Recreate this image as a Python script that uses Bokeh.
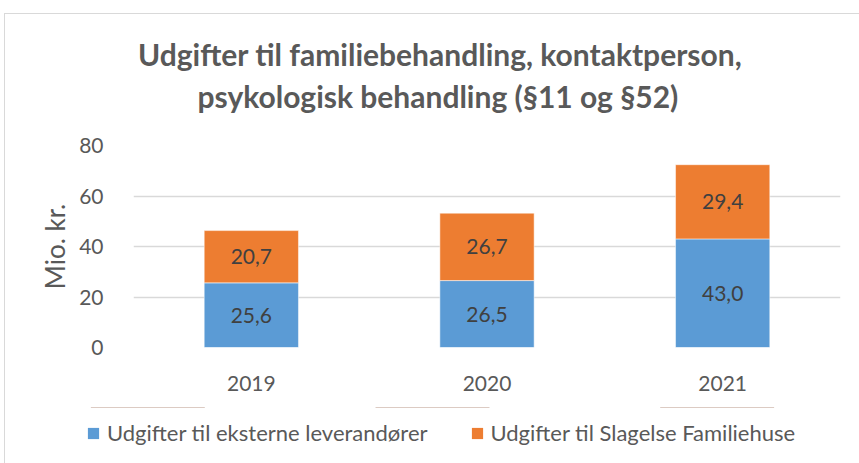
from bokeh.plotting import figure
from bokeh.layouts import column
from bokeh.models import ColumnDataSource, Legend, LegendItem, Title, FactorRange, Range1d
from bokeh.core.properties import value
from bokeh.embed import file_html
from bokeh.resources import INLINE

years = ["2019", "2020", "2021"]
eksterne = [25.6, 26.5, 43.0]
familiehuse = [20.7, 26.7, 29.4]
y_ticks = [0, 20, 40, 60, 80]
title_lines = ["Udgifter til familiebehandling, kontaktperson,",
               "psykologisk behandling (§11 og §52)"]
series_names = ["Udgifter til eksterne leverandører", "Udgifter til Slagelse Familiehuse"]
colors = ["#5B9BD5", "#ED7D31"]

FONT = "Lato"
TXT = "#595959"

src = ColumnDataSource(dict(years=years, eksterne=eksterne, familiehuse=familiehuse))

p = figure(x_range=FactorRange(factors=years, range_padding=0), y_range=Range1d(0, 80),
           frame_width=707, frame_height=202, output_backend="svg", toolbar_location=None,
           min_border_left=128, min_border_right=19, min_border_top=131, min_border_bottom=60)
p.outline_line_color = None
p.background_fill_color = "white"
p.border_fill_color = "white"

rs = p.vbar_stack(["eksterne", "familiehuse"], x="years", width=0.4, color=colors,
                  line_color="white", line_width=0.5, source=src)

# data labels
lx, ly, lt = [], [], []
for i, yr in enumerate(years):
    a, b = eksterne[i], familiehuse[i]
    lx += [yr, yr]
    ly += [a / 2, a + b / 2]
    lt += [f"{a:.1f}".replace(".", ","), f"{b:.1f}".replace(".", ",")]
lsrc = ColumnDataSource(dict(x=lx, y=ly, t=lt))
p.text(x="x", y="y", text="t", source=lsrc, text_align="center", text_baseline="middle",
       text_font=value(FONT), text_font_size="21px", text_color="#404040")

# grid & axes
p.xgrid.visible = False
p.ygrid.grid_line_color = "#d9d9d9"
p.ygrid.grid_line_width = 1.3
p.yaxis.ticker = y_ticks
for ax in (p.xaxis[0], p.yaxis[0]):
    ax.axis_line_color = None
    ax.major_tick_line_color = None
    ax.minor_tick_line_color = None
    ax.major_label_text_font = FONT
    ax.major_label_text_font_size = "21px"
    ax.major_label_text_color = TXT
p.yaxis.major_label_standoff = 24
p.xaxis.major_label_standoff = 22
p.yaxis.axis_label = "Mio. kr."
p.yaxis.axis_label_text_font = FONT
p.yaxis.axis_label_text_font_style = "normal"
p.yaxis.axis_label_text_font_size = "26px"
p.yaxis.axis_label_text_color = TXT
p.yaxis.axis_label_standoff = 5

# title: line 2 next to the frame, line 1 stacked above it
p.add_layout(Title(text=title_lines[1], align="left", offset=64, standoff=64,
                   text_font=FONT, text_font_style="bold", text_font_size="30px",
                   text_color=TXT), "above")
p.add_layout(Title(text=title_lines[0], align="left", offset=4.5, standoff=-56,
                   text_font=FONT, text_font_style="bold", text_font_size="30px",
                   text_color=TXT), "above")

# legend strip below the chart (its bars lie outside its view; only the legend shows)
lf = figure(width=854, height=56, x_range=FactorRange(factors=years), y_range=Range1d(-2, -1),
            output_backend="svg", toolbar_location=None,
            min_border_left=0, min_border_right=0, min_border_top=0, min_border_bottom=0)
lf.axis.visible = False
lf.grid.visible = False
lf.outline_line_color = None
lf.border_fill_color = "white"
lf.background_fill_color = "white"
lrs = [lf.vbar(x="years", top=col, width=0.4, fill_color=c, line_color=None, source=src)
       for col, c in zip(["eksterne", "familiehuse"], colors)]

if "frame_align" in lf.properties():
    lf.frame_align = False
    loc = (81, 17)
else:
    loc = (0, 17)

legend = Legend(items=[LegendItem(label=n, renderers=[r]) for n, r in zip(series_names, lrs)],
                orientation="horizontal", location=loc)
legend.border_line_color = None
legend.background_fill_alpha = 0
legend.padding = 0
legend.margin = 0
legend.spacing = 42
legend.glyph_width = 14
legend.glyph_height = 14
legend.label_standoff = 7
legend.label_text_font = FONT
legend.label_text_font_size = "22px"
legend.label_text_color = TXT
lf.add_layout(legend)

layout = column(p, lf, spacing=0)
layout.styles = {"margin-left": "4px", "margin-top": "13px",
                 "border-left": "1px solid #d9d9d9", "border-top": "1px solid #d9d9d9"}

open("out.html", "w").write(file_html(layout, INLINE))
